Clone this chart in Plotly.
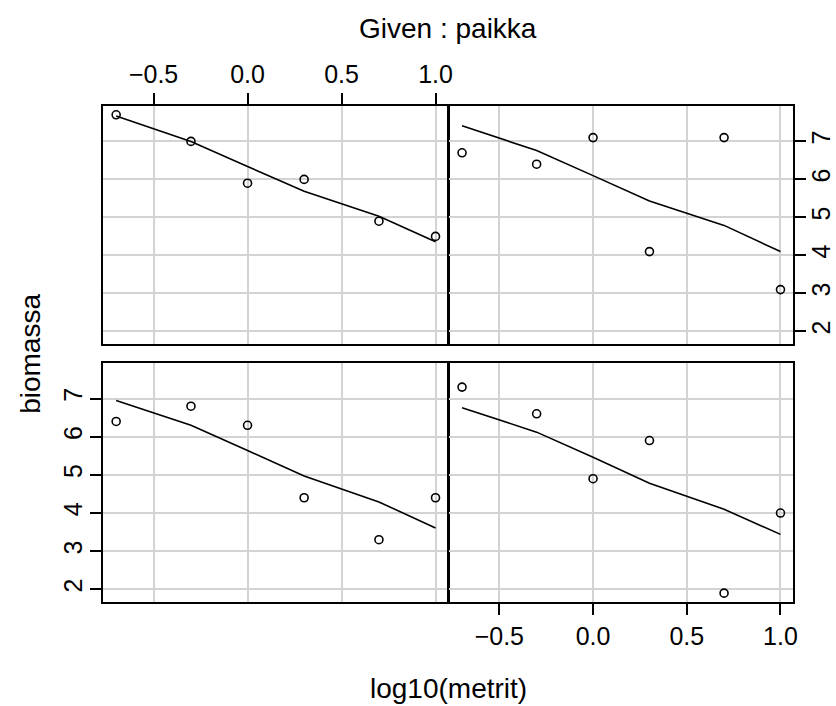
import plotly.graph_objects as go

# data
log_metrit = [-0.699, -0.301, 0.0, 0.301, 0.699, 1.0]
# panels: bottom-left, bottom-right, top-left, top-right
biomassa_p1 = [6.4, 6.8, 6.3, 4.4, 3.3, 4.4]
biomassa_p2 = [7.3, 6.6, 4.9, 5.9, 1.9, 4.0]
biomassa_p3 = [7.7, 7.0, 5.9, 6.0, 4.9, 4.5]
biomassa_p4 = [6.7, 6.4, 7.1, 4.1, 7.1, 3.1]
smooth_p1 = [6.95, 6.30, 5.64, 4.97, 4.29, 3.61]
smooth_p2 = [6.76, 6.12, 5.46, 4.78, 4.10, 3.44]
smooth_p3 = [7.67, 7.00, 6.34, 5.69, 5.03, 4.36]
smooth_p4 = [7.41, 6.76, 6.10, 5.43, 4.79, 4.10]

x_tickvals = [-0.5, 0.0, 0.5, 1.0]
x_ticktext = ["\u22120.5", "0.0", "0.5", "1.0"]
y_tickvals = [2, 3, 4, 5, 6, 7]
y_ticktext = ["2", "3", "4", "5", "6", "7"]

W, H = 836, 706
FONT = "Liberation Sans, Arial, sans-serif"
FS = 25
FL = 28

xr = [-0.767, 1.068]
yr = [1.668, 7.932]

def px_x(a, b):
    return [a / W, b / W]

def px_y(top, bot):
    return [1 - bot / H, 1 - top / H]

panels = [
    ("x", "y", px_x(104, 451), px_y(363, 602), biomassa_p1, smooth_p1),
    ("x2", "y2", px_x(452, 798), px_y(363, 602), biomassa_p2, smooth_p2),
    ("x3", "y3", px_x(104, 451), px_y(106, 344), biomassa_p3, smooth_p3),
    ("x4", "y4", px_x(452, 798), px_y(106, 344), biomassa_p4, smooth_p4),
]

fig = go.Figure()
for i, (xa, ya, xd, yd, yv, sm) in enumerate(panels):
    fig.add_trace(go.Scatter(x=log_metrit, y=sm, mode="lines", xaxis=xa, yaxis=ya,
                             line=dict(color="black", width=1.6),
                             showlegend=False, hoverinfo="skip"))
    fig.add_trace(go.Scatter(x=log_metrit, y=yv, mode="markers", xaxis=xa, yaxis=ya,
                             marker=dict(symbol="circle-open", size=8, color="black",
                                         line=dict(width=1.6, color="black")),
                             showlegend=False, hoverinfo="skip"))

common_x = dict(range=xr, tickvals=x_tickvals, ticktext=x_ticktext, showgrid=True,
                gridcolor="#d3d3d3", gridwidth=1.6, zeroline=False, showline=True,
                mirror=True, linecolor="black", linewidth=1.8,
                tickfont=dict(family=FONT, size=FS, color="black"),
                ticklen=11, tickwidth=1.8, tickcolor="black")
common_y = dict(range=yr, tickvals=y_tickvals, ticktext=y_ticktext, showgrid=True,
                gridcolor="#d3d3d3", gridwidth=1.6, zeroline=False, showline=True,
                mirror=True, linecolor="black", linewidth=1.8,
                tickfont=dict(family=FONT, size=FS, color="black"),
                ticklen=11, tickwidth=1.8, tickcolor="black", tickangle=-90)

layout = {}
layout["xaxis"] = dict(common_x, domain=panels[0][2], anchor="y", showticklabels=False, ticks="")
layout["yaxis"] = dict(common_y, domain=panels[0][3], anchor="x", side="left", ticks="outside",
                       showticklabels=True, ticklabelstandoff=-2)
layout["xaxis2"] = dict(common_x, domain=panels[1][2], anchor="y2", side="bottom", ticks="outside", showticklabels=True)
layout["yaxis2"] = dict(common_y, domain=panels[1][3], anchor="x2", showticklabels=False, ticks="")
layout["xaxis3"] = dict(common_x, domain=panels[2][2], anchor="y3", side="top", ticks="outside", showticklabels=True)
layout["yaxis3"] = dict(common_y, domain=panels[2][3], anchor="x3", showticklabels=False, ticks="")
layout["xaxis4"] = dict(common_x, domain=panels[3][2], anchor="y4", showticklabels=False, ticks="")
layout["yaxis4"] = dict(common_y, domain=panels[3][3], anchor="x4", side="right", ticks="outside",
                        showticklabels=True, ticklabelstandoff=-6)

fig.update_layout(**layout)
fig.update_layout(
    width=W, height=H, margin=dict(l=0, r=0, t=0, b=0),
    paper_bgcolor="white", plot_bgcolor="white",
    font=dict(family=FONT, size=FS, color="black"),
    annotations=[
        dict(text="Given : paikka", x=451 / W, y=1 - 28 / H, xref="paper", yref="paper",
             showarrow=False, xanchor="center", yanchor="middle", font=dict(size=FL)),
        dict(text="log10(metrit)", x=451 / W, y=1 - 688 / H, xref="paper", yref="paper",
             showarrow=False, xanchor="center", yanchor="middle", font=dict(size=FL)),
        dict(text="biomassa", x=30 / W, y=1 - 354 / H, xref="paper", yref="paper",
             showarrow=False, xanchor="center", yanchor="middle", textangle=-90,
             font=dict(size=FL)),
    ],
)

fig.write_html("out.html")
